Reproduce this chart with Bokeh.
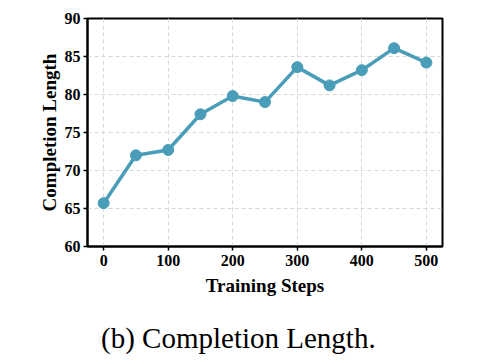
from bokeh.plotting import figure
from bokeh.models import Range1d, FixedTicker, Div
from bokeh.layouts import column
from bokeh.embed import file_html
from bokeh.resources import INLINE

steps = [0, 50, 100, 150, 200, 250, 300, 350, 400, 450, 500]
completion_length = [65.7, 72.0, 72.7, 77.4, 79.8, 79.0, 83.6, 81.2, 83.2, 86.1, 84.2]
x_ticks = [0, 100, 200, 300, 400, 500]
y_ticks = [60, 65, 70, 75, 80, 85, 90]
caption = "(b) Completion Length."

color = "#4a9db8"
serif = "Liberation Serif"

p = figure(width=483, height=306, output_backend="svg", toolbar_location=None,
           x_range=Range1d(-25, 525), y_range=Range1d(60, 90),
           min_border_left=87, min_border_right=41, min_border_top=18, min_border_bottom=60)

p.outline_line_color = "black"
p.outline_line_width = 2
p.outline_line_alpha = 1

for ax in (p.xaxis[0], p.yaxis[0]):
    ax.axis_line_color = "black"
    ax.axis_line_width = 2
    ax.major_tick_line_color = "black"
    ax.major_tick_line_width = 1.5
    ax.major_tick_out = 4
    ax.major_tick_in = 0
    ax.minor_tick_line_color = None
    ax.major_label_text_font = serif
    ax.major_label_text_font_style = "bold"
    ax.major_label_text_font_size = "16px"
    ax.major_label_text_color = "black"
    ax.axis_label_text_font = serif
    ax.axis_label_text_font_style = "bold"
    ax.axis_label_text_font_size = "19px"
    ax.axis_label_text_color = "black"

p.xaxis.ticker = FixedTicker(ticks=x_ticks)
p.yaxis.ticker = FixedTicker(ticks=y_ticks)
p.xaxis.axis_label = "Training Steps"
p.yaxis.axis_label = "Completion Length"
p.xaxis.major_label_standoff = 4
p.yaxis.major_label_standoff = 3
p.xaxis.axis_label_standoff = 6
p.yaxis.axis_label_standoff = 2

for g in (p.xgrid[0], p.ygrid[0]):
    g.grid_line_color = "#d8d8d8"
    g.grid_line_dash = "4 3"
    g.grid_line_width = 1

p.line(steps, completion_length, line_color=color, line_width=3.5)
p.scatter(steps, completion_length, size=11, fill_color=color, line_color=color)

cap = Div(text=caption, width=380, height=34, margin=(16, 0, 0, 101),
          styles={"font-family": "'Times New Roman', 'Liberation Serif', 'DejaVu Serif', serif",
                  "font-size": "29px", "font-weight": "400",
                  "line-height": "normal", "white-space": "nowrap", "color": "black"})

layout = column(p, cap, spacing=0)

open("out.html", "w").write(file_html(layout, INLINE))
